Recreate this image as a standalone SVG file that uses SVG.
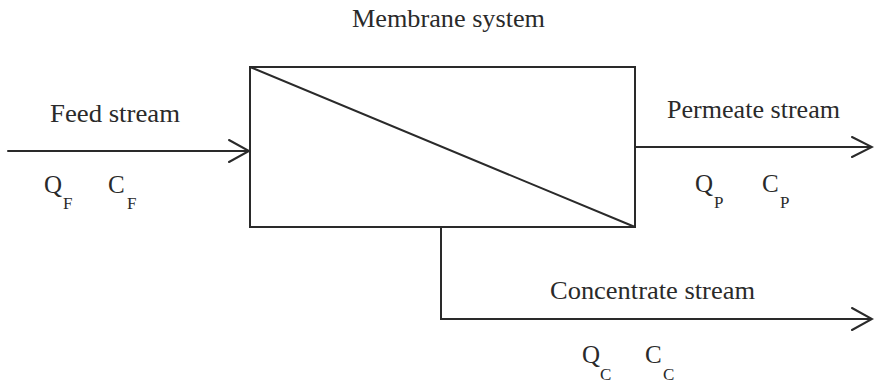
<svg xmlns="http://www.w3.org/2000/svg" width="874" height="388" viewBox="0 0 874 388">
<style>
.ln{fill:none;stroke:#2a2a2a;stroke-width:2;stroke-linecap:round;stroke-linejoin:miter}
.t{font-family:"Liberation Serif","Times New Roman",serif;fill:#2a2a2a;font-size:25px}
.s{font-family:"Liberation Serif","Times New Roman",serif;fill:#2a2a2a;font-size:17px}
</style>
<rect width="874" height="388" fill="#ffffff"/>
<g id="membrane">
<rect class="ln" x="250" y="67" width="385" height="160"/>
<line class="ln" x1="250" y1="67" x2="635" y2="227"/>
<text class="t" x="352" y="27" textLength="193" lengthAdjust="spacingAndGlyphs">Membrane system</text>
</g>
<g id="connectors">
<path class="ln" d="M8,151 H249 M229,140 L249,151 L229,162"/>
<path class="ln" d="M635,147 H872 M852,137 L872,147 L852,157"/>
<path class="ln" d="M441,227 V319 H872 M852,308 L872,319 L852,330"/>
</g>
<g id="feed">
<text class="t" x="50" y="122" textLength="130" lengthAdjust="spacingAndGlyphs">Feed stream</text>
<text class="t" x="44" y="193">Q</text><text class="s" x="63" y="209">F</text>
<text class="t" x="108" y="193">C</text><text class="s" x="127" y="209">F</text>
</g>
<g id="permeate">
<text class="t" x="667" y="118" textLength="173" lengthAdjust="spacingAndGlyphs">Permeate stream</text>
<text class="t" x="695" y="192">Q</text><text class="s" x="714" y="208">P</text>
<text class="t" x="762" y="192">C</text><text class="s" x="780" y="208">P</text>
</g>
<g id="concentrate">
<text class="t" x="550" y="299" textLength="205" lengthAdjust="spacingAndGlyphs">Concentrate stream</text>
<text class="t" x="582" y="363">Q</text><text class="s" x="600" y="380">C</text>
<text class="t" x="645" y="363">C</text><text class="s" x="663" y="380">C</text>
</g>
</svg>
